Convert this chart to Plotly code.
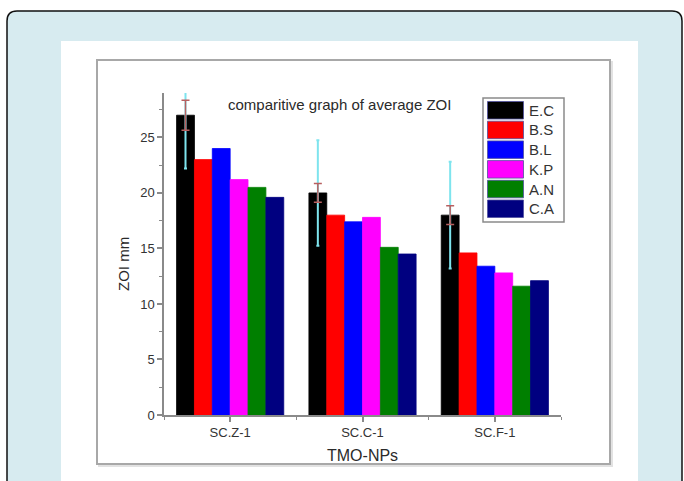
import plotly.graph_objects as go

# ---------------- data ----------------
categories = ["SC.Z-1", "SC.C-1", "SC.F-1"]
series_names = ["E.C", "B.S", "B.L", "K.P", "A.N", "C.A"]
series_colors = ["#000000", "#ff0000", "#0000ff", "#ff00ff", "#007f00", "#000080"]
values = {
    "E.C": [27.0, 20.0, 18.0],
    "B.S": [23.0, 18.0, 14.6],
    "B.L": [24.0, 17.4, 13.4],
    "K.P": [21.2, 17.8, 12.8],
    "A.N": [20.5, 15.1, 11.6],
    "C.A": [19.6, 14.5, 12.1],
}
ec_err_small = [1.35, 0.85, 0.85]
ec_err_large = [4.8, 4.75, 4.8]

# ---------------- geometry helpers ----------------
W, H = 684, 481
L, R, T, B = 164, 123, 93, 66
PW, PH = W - L - R, H - T - B


def px(x):
    return (x - L) / PW


def py(y):
    return (H - B - y) / PH


FONT = "Arial, Liberation Sans, sans-serif"
xpos = list(range(len(categories)))

fig = go.Figure()
for name, col in zip(series_names, series_colors):
    fig.add_trace(go.Bar(
        x=xpos, y=values[name], name=name, offsetgroup=name,
        marker=dict(color=col, line=dict(color=col, width=0.8)),
        error_y=dict(type="data", array=ec_err_large, color="#7ee4ee",
                     thickness=2, width=1.5) if name == "E.C" else None,
        showlegend=False,
    ))
# second error bar set on E.C (overlaid on the same bar position)
fig.add_trace(go.Bar(
    x=xpos, y=values["E.C"], offsetgroup="E.C",
    marker=dict(color="rgba(0,0,0,0)", line=dict(width=0)),
    error_y=dict(type="data", array=ec_err_small, color="#b86060",
                 thickness=1.5, width=4),
    showlegend=False, hoverinfo="skip",
))

shapes = []


def rounded_path(x0, y0, x1, y1, r):
    return (f"M {px(x0 + r)} {py(y0)} L {px(x1 - r)} {py(y0)} "
            f"Q {px(x1)} {py(y0)} {px(x1)} {py(y0 + r)} "
            f"L {px(x1)} {py(y1 - r)} Q {px(x1)} {py(y1)} {px(x1 - r)} {py(y1)} "
            f"L {px(x0 + r)} {py(y1)} Q {px(x0)} {py(y1)} {px(x0)} {py(y1 - r)} "
            f"L {px(x0)} {py(y0 + r)} Q {px(x0)} {py(y0)} {px(x0 + r)} {py(y0)} Z")


shapes.append(dict(type="path", xref="paper", yref="paper", layer="below",
                   path=rounded_path(7, 11, 682, 500, 10),
                   fillcolor="#d7ebf0", line=dict(color="#111111", width=1.5)))
shapes.append(dict(type="rect", xref="paper", yref="paper", layer="below",
                   x0=px(61), x1=px(638), y0=py(41), y1=py(500),
                   fillcolor="#ffffff", line=dict(width=0)))
shapes.append(dict(type="rect", xref="paper", yref="paper", layer="below",
                   x0=px(99), x1=px(612), y0=py(62), y1=py(466),
                   fillcolor="rgba(0,0,0,0)", line=dict(color="#e2e2e2", width=2)))
shapes.append(dict(type="rect", xref="paper", yref="paper", layer="below",
                   x0=px(97), x1=px(610), y0=py(60), y1=py(464),
                   fillcolor="#ffffff", line=dict(color="#a8a8a8", width=2)))
# legend box
shapes.append(dict(type="rect", xref="paper", yref="paper", layer="above",
                   x0=px(483), x1=px(564), y0=py(98), y1=py(222),
                   fillcolor="#ffffff", line=dict(color="#8a8a8a", width=1.5)))

annotations = []
for i, (name, col) in enumerate(zip(series_names, series_colors)):
    top = 101.5 + i * 19.7
    shapes.append(dict(type="rect", xref="paper", yref="paper", layer="above",
                       x0=px(487.5), x1=px(523.5), y0=py(top), y1=py(top + 17.5),
                       fillcolor=col, line=dict(color="#5050a0", width=0.8)))
    annotations.append(dict(xref="paper", yref="paper", x=px(527), y=py(top + 8.75),
                            text=name, showarrow=False, xanchor="left", yanchor="middle",
                            font=dict(family=FONT, size=15, color="#333333")))

annotations.append(dict(xref="paper", yref="paper", x=px(339), y=py(105),
                        text="comparitive graph of average ZOI", showarrow=False,
                        xanchor="center", yanchor="middle",
                        font=dict(family=FONT, size=15, color="#2a2a2a")))
annotations.append(dict(xref="paper", yref="paper", x=px(123), y=py(264),
                        text="ZOI mm", showarrow=False, textangle=-90,
                        xanchor="center", yanchor="middle",
                        font=dict(family=FONT, size=15, color="#2a2a2a")))
annotations.append(dict(xref="paper", yref="paper", x=px(362), y=py(455),
                        text="TMO-NPs", showarrow=False,
                        xanchor="center", yanchor="middle",
                        font=dict(family=FONT, size=16, color="#2a2a2a")))

fig.update_layout(
    width=W, height=H,
    margin=dict(l=L, r=R, t=T, b=B, pad=0),
    paper_bgcolor="#ffffff", plot_bgcolor="rgba(0,0,0,0)",
    barmode="group", bargap=0.19, bargroupgap=0,
    shapes=shapes, annotations=annotations,
    showlegend=False,
    font=dict(family=FONT, size=13, color="#333333"),
)
fig.update_xaxes(
    range=[-0.5, 2.5], tickvals=xpos, ticktext=categories,
    showgrid=False, zeroline=False,
    showline=True, linecolor="#8a8a8a", linewidth=1.5,
    ticks="outside", ticklen=5, tickcolor="#8a8a8a", tickwidth=1.5,
    minor=dict(tickvals=[-0.5, 0.5, 1.5, 2.5], ticks="outside", ticklen=3,
               tickcolor="#8a8a8a", tickwidth=1.2),
    tickfont=dict(family=FONT, size=13, color="#333333"),
)
fig.update_yaxes(
    range=[0, 29], dtick=5, tick0=0,
    showgrid=False, zeroline=False,
    showline=True, linecolor="#8a8a8a", linewidth=1.5,
    ticks="outside", ticklen=5, tickcolor="#8a8a8a", tickwidth=1.5,
    minor=dict(dtick=2.5, ticks="outside", ticklen=3, tickcolor="#8a8a8a", tickwidth=1.2),
    tickfont=dict(family=FONT, size=13, color="#333333"),
)

fig.write_html("out.html", config={"displayModeBar": False})

# remove the default page margin so the figure sits at the window's origin
with open("out.html", "r", encoding="utf-8") as f:
    html = f.read()
html = html.replace("<body>", '<body style="margin:0;padding:0;overflow:hidden">', 1)
with open("out.html", "w", encoding="utf-8") as f:
    f.write(html)
